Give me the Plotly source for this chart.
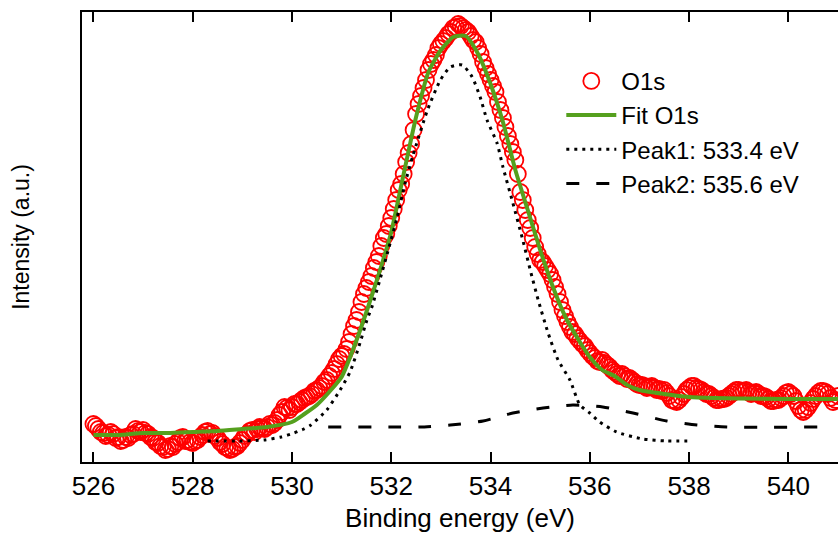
import plotly.graph_objects as go

# O1s spectrum (intensity in arbitrary units), read on a 0.05 eV grid:
# o1s holds the points at whole tenths, o1s_mid the points halfway between
energy = [round(526.0 + 0.1 * i, 1) for i in range(151)]
o1s = [
    38, 33, 29, 27, 28, 25, 22, 24, 28, 31,
    32, 28, 24, 19, 15, 13, 15, 20, 25, 22,
    19, 22, 27, 31, 29, 24, 18, 14, 13, 16,
    22, 28, 32, 33, 34, 35, 37, 42, 50, 54,
    55, 58, 62, 65, 68, 72, 76, 82, 89, 98,
    106, 113, 128, 142, 160, 174, 186, 200, 216, 228,
    244, 262, 278, 300, 318, 348, 366, 382, 398, 407,
    418, 424, 430, 435, 436, 432, 426, 420, 408, 394,
    382, 370, 352, 335, 318, 302, 270, 252, 234, 215,
    202, 196, 188, 175, 160, 146, 135, 128, 121, 116,
    109, 104, 100, 99, 95, 90, 86, 86, 84, 80,
    77, 76, 75, 74, 73, 72, 66, 61, 62, 68,
    74, 76, 73, 70, 68, 64, 62, 63, 66, 70,
    72, 71, 70, 69, 68, 66, 63, 61, 62, 66,
    70, 66, 56, 50, 55, 63, 69, 71, 68, 60,
    66,
]
energy_mid = [round(526.05 + 0.1 * i, 2) for i in range(150)]
o1s_mid = [
    36, 30, 26, 30, 24, 21, 25, 27, 33, 30,
    29, 25, 20, 16, 12, 16, 18, 24, 21, 20,
    21, 25, 30, 28, 26, 20, 15, 12, 15, 19,
    26, 31, 30, 35, 33, 38, 39, 47, 55, 52,
    58, 60, 64, 66, 71, 74, 80, 86, 93, 103,
    108, 120, 136, 150, 168, 180, 194, 206, 224, 236,
    253, 272, 288, 309, 332, 358, 374, 392, 402, 414,
    421, 428, 434, 438, 434, 430, 422, 414, 400, 388,
    376, 360, 344, 326, 310, 288, 262, 242, 224, 208,
    200, 192, 182, 168, 152, 140, 130, 124, 118, 112,
    106, 101, 102, 97, 92, 88, 88, 83, 82, 78,
    77, 74, 76, 72, 71, 69, 62, 60, 65, 72,
    76, 74, 72, 68, 66, 62, 63, 64, 68, 72,
    71, 72, 68, 70, 66, 65, 61, 62, 64, 69,
    68, 61, 52, 52, 59, 66, 71, 70, 64, 62,
]

fit_x = [526.0, 526.5, 527.0, 527.5, 528.0, 528.5, 529.0, 529.5, 530.0, 530.25,
         530.5, 530.75, 531.0, 531.25, 531.5, 531.75, 532.0, 532.25, 532.5, 532.75,
         533.0, 533.25, 533.5, 533.75, 534.0, 534.25, 534.5, 534.75, 535.0, 535.25,
         535.5, 535.75, 536.0, 536.25, 536.5, 536.75, 537.0, 537.5, 538.0, 538.5,
         539.0, 540.0, 541.0]
fit_y = [27, 27, 29, 29, 30, 31, 33, 35, 40, 48,
         57, 70, 85, 115, 150, 188, 230, 288, 345, 390,
         412, 425, 426, 408, 378, 340, 292, 252, 212, 176,
         146, 124, 105, 92, 86, 77, 72, 68, 65, 64,
         63.5, 63, 63]

peak1_x = [528.3, 528.9, 529.44, 529.78, 530.04, 530.24, 530.38, 530.7, 530.97, 531.17,
           531.37, 531.51, 531.61, 531.77, 531.94, 532.12, 532.28, 532.44, 532.73, 532.99,
           533.19, 533.43, 533.63, 533.79, 533.93, 534.13, 534.25, 534.45, 534.65, 534.8,
           534.96, 535.16, 535.36, 535.6, 535.8, 536.0, 536.2, 536.54, 537.07, 537.55,
           538.06]
peak1_y = [21, 21, 22, 25, 29, 33, 37, 52, 72, 90,
           119, 142, 155, 182, 212, 245, 279, 307, 352, 382,
           395, 397, 385, 365, 342, 319, 295, 259, 222, 192,
           162, 129, 102, 82, 57, 49, 40, 30, 23, 21,
           21]

peak2_x = [530.73, 532.18, 532.58, 533.19, 533.85, 534.45, 535.06, 535.66, 536.26, 536.87,
           537.55, 538.16, 538.76, 540.6]
peak2_y = [35, 35, 35, 37, 41, 49, 54, 57, 55, 49,
           41, 37, 35, 35]

font = "Liberation Sans, Arial, sans-serif"

# merge the two grids into one ordered series
pts = sorted(zip(energy + energy_mid, o1s + o1s_mid))
data_x = [p[0] for p in pts]
data_y = [p[1] for p in pts]

fig = go.Figure()

fig.add_trace(go.Scatter(
    x=data_x, y=data_y, mode="markers", name="O1s",
    marker=dict(symbol="circle-open", size=16, color="#ff0000",
                line=dict(width=1.8, color="#ff0000")),
))
fig.add_trace(go.Scatter(
    x=fit_x, y=fit_y, mode="lines", name="Fit O1s",
    line=dict(color="#55a01e", width=4, shape="spline", smoothing=0.6),
))
fig.add_trace(go.Scatter(
    x=peak1_x, y=peak1_y, mode="lines", name="Peak1: 533.4 eV",
    line=dict(color="black", width=3, dash="3px,5px", shape="spline", smoothing=0.6),
))
fig.add_trace(go.Scatter(
    x=peak2_x, y=peak2_y, mode="lines", name="Peak2: 535.6 eV",
    line=dict(color="black", width=3, dash="13px,17px", shape="spline", smoothing=0.6),
))

fig.update_layout(
    width=838, height=533,
    margin=dict(l=82, r=0, t=12, b=71),
    paper_bgcolor="white", plot_bgcolor="white",
    font=dict(family=font, size=25, color="black"),
    legend=dict(x=0.634, y=0.896, xanchor="left", yanchor="top",
                bgcolor="rgba(0,0,0,0)", font=dict(size=24),
                tracegroupgap=0, itemwidth=50),
    showlegend=True,
)
fig.update_xaxes(
    range=[525.77, 541.0], tickvals=[526, 528, 530, 532, 534, 536, 538, 540],
    ticks="inside", ticklen=10, tickwidth=2, tickcolor="black",
    showline=True, linewidth=2, linecolor="black", mirror="allticks",
    showgrid=False, zeroline=False, tickfont=dict(size=26),
    title=dict(text="Binding energy (eV)", font=dict(size=26), standoff=12),
)
fig.update_yaxes(
    range=[0, 450], showticklabels=False, ticks="",
    showline=True, linewidth=2, linecolor="black", mirror=False,
    showgrid=False, zeroline=False,
    title=dict(text="Intensity (a.u.)", font=dict(size=23), standoff=44),
)

# page body has a default margin; drop it so the figure fills the window
fig.write_html("out.html", config={"displayModeBar": False},
               post_script="document.body.style.margin='0';")
